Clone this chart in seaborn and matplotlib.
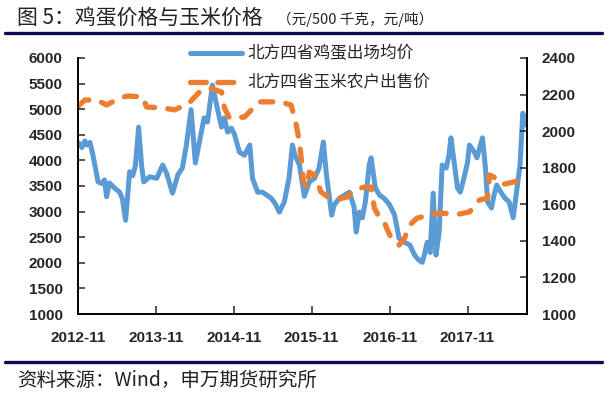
"""
鸡蛋价格与玉米价格 – dual-axis line chart (eggs vs corn, northern four provinces)
"""
import pandas as pd
import matplotlib
matplotlib.use("Agg")
import matplotlib.pyplot as plt
import matplotlib.dates as mdates
from matplotlib.lines import Line2D
import seaborn as sns

# ── Data ──────────────────────────────────────────────────────────────────────

egg_dates = [
    "2012-11-05", "2012-11-19", "2012-12-03", "2012-12-13", "2012-12-27",
    "2013-01-10", "2013-01-24", "2013-02-03", "2013-02-21", "2013-03-05",
    "2013-03-15", "2013-03-28", "2013-04-21", "2013-05-15", "2013-05-28",
    "2013-06-12", "2013-07-01", "2013-07-15", "2013-07-28", "2013-08-12",
    "2013-08-26", "2013-09-05", "2013-10-03", "2013-11-05", "2013-12-03",
    "2013-12-21", "2014-01-18", "2014-02-12", "2014-03-05", "2014-03-24",
    "2014-04-15", "2014-05-05", "2014-05-24", "2014-06-15", "2014-07-01",
    "2014-07-24", "2014-08-03", "2014-08-26", "2014-09-05", "2014-09-18",
    "2014-10-03", "2014-10-21", "2014-11-05", "2014-11-28", "2014-12-21",
    "2015-01-15", "2015-01-28", "2015-02-21", "2015-03-15", "2015-04-06",
    "2015-04-26", "2015-05-15", "2015-06-03", "2015-06-26", "2015-07-18",
    "2015-08-03", "2015-08-15", "2015-09-05", "2015-09-28", "2015-10-21",
    "2015-11-15", "2015-12-06", "2015-12-26", "2016-01-10", "2016-01-24",
    "2016-02-03", "2016-02-15", "2016-03-10", "2016-04-03", "2016-04-26",
    "2016-05-18", "2016-05-28", "2016-06-12", "2016-06-26", "2016-07-10",
    "2016-07-28", "2016-08-06", "2016-08-26", "2016-09-15", "2016-10-06",
    "2016-11-01", "2016-11-24", "2016-12-15", "2017-01-10", "2017-02-03",
    "2017-02-26", "2017-03-18", "2017-04-03", "2017-04-12", "2017-04-26",
    "2017-05-10", "2017-05-24", "2017-06-06", "2017-06-21", "2017-07-05",
    "2017-07-24", "2017-08-06", "2017-08-15", "2017-09-01", "2017-09-15",
    "2017-09-28", "2017-10-15", "2017-11-01", "2017-11-10", "2017-12-03",
    "2017-12-15", "2018-01-10", "2018-01-24", "2018-02-03", "2018-02-21",
    "2018-03-05", "2018-03-18", "2018-04-06", "2018-04-26", "2018-05-15",
    "2018-06-03", "2018-06-21", "2018-07-05", "2018-07-18", "2018-08-03",
]
egg_price = [
    4340, 4250, 4380, 4300, 4350,
    4100, 3800, 3580, 3550, 3620,
    3290, 3560, 3460, 3380, 3250,
    2830, 3780, 3700, 3900, 4650,
    3900, 3580, 3680, 3650, 3910,
    3750, 3360, 3720, 3850, 4300,
    4990, 3950, 4360, 4830, 4750,
    5470, 5270, 4830, 4650, 4830,
    4550, 4630, 4500, 4160, 4100,
    4300, 3650, 3380, 3380, 3320,
    3260, 3150, 2990, 3190, 3650,
    4300, 4100, 3910, 3300, 3580,
    3650, 3850, 4360, 3700, 3260,
    2930, 3130, 3260, 3320, 3380,
    3090, 2600, 2990, 2880, 3190,
    3910, 4050, 3460, 3320, 3260,
    3130, 2930, 2480, 2400, 2350,
    2150, 2050, 2010, 2150, 2400,
    2200, 3360, 2150, 2600, 3910,
    3850, 4100, 4440, 3910, 3460,
    3380, 3650, 3960, 4300, 4160,
    4050, 4440, 3850, 3190, 3070,
    3320, 3520, 3380, 3260, 3190,
    2880, 3460, 3910, 4920, 4690,
]

corn_dates = [
    "2012-11-05", "2012-12-03", "2013-01-28", "2013-03-15", "2013-05-15",
    "2013-06-21", "2013-09-01", "2013-09-18", "2013-12-03", "2014-01-28",
    "2014-04-06", "2014-05-24", "2014-07-10", "2014-09-05", "2014-09-18",
    "2014-10-12", "2014-12-21", "2015-03-01", "2015-06-03", "2015-07-28",
    "2015-08-21", "2015-09-05", "2015-09-15", "2015-09-24", "2015-10-12",
    "2015-10-21", "2015-11-15", "2015-11-28", "2015-12-15", "2016-01-24",
    "2016-03-10", "2016-04-15", "2016-05-18", "2016-07-05", "2016-08-06",
    "2016-08-21", "2016-09-15", "2016-10-06", "2016-11-01", "2016-11-24",
    "2016-12-15", "2017-01-10", "2017-02-03", "2017-03-10", "2017-06-21",
    "2017-09-24", "2017-11-10", "2017-12-26", "2018-02-03", "2018-02-12",
    "2018-03-05", "2018-03-18", "2018-04-21", "2018-06-06", "2018-08-03",
]
corn_price = [
    2140, 2170, 2170, 2143, 2180,
    2192, 2187, 2132, 2127, 2116,
    2154, 2214, 2236, 2214, 2127,
    2072, 2077, 2160, 2160, 2143,
    2033, 1940, 1831, 1722, 1689,
    1776, 1760, 1722, 1667, 1634,
    1629, 1640, 1678, 1694, 1694,
    1580, 1525, 1503, 1432, 1394,
    1377, 1415, 1487, 1525, 1552,
    1547, 1558, 1623, 1634, 1760,
    1749, 1722, 1710, 1722, 1744,
]

egg_label = "北方四省鸡蛋出场均价"
corn_label = "北方四省玉米农户出售价"
x_ticks = ["2012-11", "2013-11", "2014-11", "2015-11", "2016-11", "2017-11"]

egg = pd.DataFrame({"date": pd.to_datetime(egg_dates), "price": egg_price})
corn = pd.DataFrame({"date": pd.to_datetime(corn_dates), "price": corn_price})

# ── Style ─────────────────────────────────────────────────────────────────────

sns.set_style("ticks")
CJK = ["Noto Sans CJK SC", "DejaVu Sans"]
plt.rcParams["font.family"] = CJK
BLUE, ORANGE, NAVY = "#5b9bd5", "#ed7d31", "#0c0c55"
DASH = (0, (2.3, 2.5))
tick_font = dict(family="Liberation Sans", weight="bold", size=11)

fig = plt.figure(figsize=(6.12, 3.97), dpi=100)
ax = fig.add_axes([0.1275, 0.209, 0.733, 0.645])
ax2 = ax.twinx()

sns.lineplot(data=egg, x="date", y="price", ax=ax, color=BLUE,
             linewidth=3.6, label=egg_label, legend=False)
sns.lineplot(data=corn, x="date", y="price", ax=ax2, color=ORANGE,
             linewidth=3.8, linestyle=DASH, label=corn_label,
             legend=False, dash_capstyle="round")

ax.set_xlim(pd.Timestamp("2012-11-01"), pd.Timestamp("2018-08-05"))
ax.set_ylim(1000, 6000)
ax2.set_ylim(1000, 2400)
ax.set_yticks(range(1000, 6001, 500))
ax2.set_yticks(range(1000, 2401, 200))
ax.set_xticks(pd.to_datetime(x_ticks))
ax.xaxis.set_major_formatter(mdates.DateFormatter("%Y-%m"))
ax.set(xlabel="", ylabel="")
ax2.set(xlabel="", ylabel="")

for a in (ax, ax2):
    a.spines["top"].set_visible(False)
    for s in a.spines.values():
        s.set_linewidth(1.2)
        s.set_color("black")
    a.tick_params(direction="in", length=5, width=1.1, pad=11)
    for lbl in a.get_xticklabels() + a.get_yticklabels():
        lbl.set_fontproperties(tick_font)
ax.tick_params(axis="x", length=6, pad=12)

# legend (no frame) on top of both lines
handles = [Line2D([], [], color=BLUE, lw=3.6),
           Line2D([], [], color=ORANGE, lw=3.8, linestyle=(0, (3.0, 2.2)),
                  dash_capstyle="round")]
ax2.legend(handles, [egg_label, corn_label], loc="upper left",
           bbox_to_anchor=(0.235, 1.075), frameon=False, prop=dict(family=CJK, size=12),
           handlelength=3.1, handletextpad=0.35, labelspacing=0.72, borderaxespad=0)

# ── Title / source ────────────────────────────────────────────────────────────

fig.text(0.027, 0.955, "图 5：鸡蛋价格与玉米价格", fontsize=15, color="#222222",
         va="center", family=CJK)
fig.text(0.452, 0.951, "（元/500 千克，元/吨）", fontsize=10.5, color="#222222",
         va="center", family=CJK)
fig.add_artist(Line2D([0.008, 0.984], [0.917, 0.917], color=NAVY, lw=2.4,
                      transform=fig.transFigure))
fig.add_artist(Line2D([0.008, 0.984], [0.087, 0.087], color=NAVY, lw=2.4,
                      transform=fig.transFigure))
fig.text(0.028, 0.043, "资料来源：Wind，申万期货研究所", fontsize=14,
         color="#222222", va="center", family=CJK)

fig.savefig("out.png", dpi=100, facecolor="white")
